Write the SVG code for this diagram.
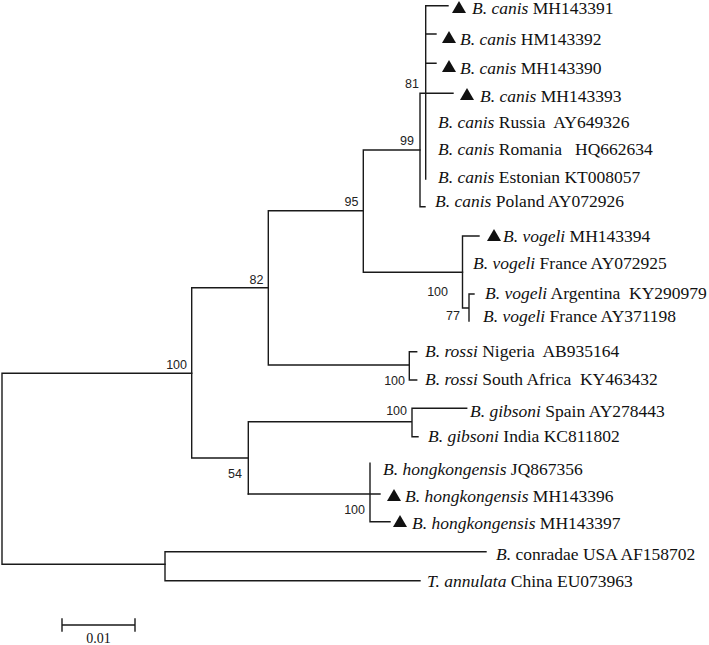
<svg xmlns="http://www.w3.org/2000/svg" width="709" height="645" viewBox="0 0 709 645">
<style>
.br{stroke:#1a1a1a;stroke-width:1.4;fill:none;stroke-linecap:square}
.lb{font-family:"Liberation Serif","Times New Roman",serif;font-size:17.5px;fill:#111;white-space:pre}
.i{font-style:italic}
.bs{font-family:"Liberation Sans",Arial,sans-serif;font-size:12.5px;fill:#222;text-anchor:end}
.tri{fill:#111}
</style>
<defs>
<polygon id="tri" points="0,0 7,-12 14,0"/>
</defs>
<rect width="709" height="645" fill="#fff"/>
<g id="connectors" class="br">
<path d="M2,373.3V564.3M2,373.3H191.7M2,564.3H165"/>
<path d="M165,551.7V580.7M165,551.7H486M165,580.7H420"/>
<path d="M191.7,287.7V458M191.7,287.7H268.3M191.7,458H248.3"/>
<path d="M268.3,210.7V365M268.3,210.7H363.3M268.3,365H409.3"/>
<path d="M363.3,150V272.3M363.3,150H420M363.3,272.3H462.5"/>
<path d="M420,93.3V206.7H425M420,93.3H453"/>
<path d="M425.7,5.7V179M425.7,5.7H448M425.7,34H436M425.7,63.3H436"/>
<path d="M462.5,236V308H469M469,294V321M469,294H474M462.5,236H479"/>
<path d="M409.3,351.7V380M409.3,351.7H416.7M409.3,380H416.7"/>
<path d="M248.3,421.7V494M248.3,421.7H412M412,408.3V436.7M412,408.3H466.7M412,436.7H418"/>
<path d="M370,463.3V521.7M248.3,494H380M370,521.7H390"/>
</g>
<g id="bootstrap">
<text class="bs" x="419" y="87.5">81</text>
<text class="bs" x="414" y="145">99</text>
<text class="bs" x="358.5" y="206">95</text>
<text class="bs" x="263.5" y="283.5">82</text>
<text class="bs" x="187" y="368.5">100</text>
<text class="bs" x="448" y="296">100</text>
<text class="bs" x="460" y="319.5">77</text>
<text class="bs" x="405" y="385">100</text>
<text class="bs" x="407" y="415">100</text>
<text class="bs" x="242" y="478">54</text>
<text class="bs" x="365" y="513.5">100</text>
</g>
<g id="n1"><use href="#tri" class="tri" x="452" y="13"/><text class="lb" x="472" y="14"><tspan class="i">B. canis</tspan> MH143391</text></g>
<g id="n2"><use href="#tri" class="tri" x="442" y="43"/><text class="lb" x="460" y="45"><tspan class="i">B. canis</tspan> HM143392</text></g>
<g id="n3"><use href="#tri" class="tri" x="442" y="72"/><text class="lb" x="460" y="73.5"><tspan class="i">B. canis</tspan> MH143390</text></g>
<g id="n4"><use href="#tri" class="tri" x="460" y="100"/><text class="lb" x="480" y="102"><tspan class="i">B. canis</tspan> MH143393</text></g>
<g id="n5"><text class="lb" x="438" y="127.5"><tspan class="i">B. canis</tspan> Russia  AY649326</text></g>
<g id="n6"><text class="lb" x="438" y="155"><tspan class="i">B. canis</tspan> Romania   HQ662634</text></g>
<g id="n7"><text class="lb" x="438" y="183"><tspan class="i">B. canis</tspan> Estonian KT008057</text></g>
<g id="n8"><text class="lb" x="435" y="207"><tspan class="i">B. canis</tspan> Poland AY072926</text></g>
<g id="n9"><use href="#tri" class="tri" x="487" y="241"/><text class="lb" x="503" y="242"><tspan class="i">B. vogeli</tspan> MH143394</text></g>
<g id="n10"><text class="lb" x="473" y="268.5"><tspan class="i">B. vogeli</tspan> France AY072925</text></g>
<g id="n11"><text class="lb" x="485" y="298.5"><tspan class="i">B. vogeli</tspan> Argentina  KY290979</text></g>
<g id="n12"><text class="lb" x="483" y="322"><tspan class="i">B. vogeli</tspan> France AY371198</text></g>
<g id="n13"><text class="lb" x="425" y="357"><tspan class="i">B. rossi</tspan> Nigeria  AB935164</text></g>
<g id="n14"><text class="lb" x="425" y="385"><tspan class="i">B. rossi</tspan> South Africa  KY463432</text></g>
<g id="n15"><text class="lb" x="470" y="417"><tspan class="i">B. gibsoni</tspan> Spain AY278443</text></g>
<g id="n16"><text class="lb" x="428" y="442"><tspan class="i">B. gibsoni</tspan> India KC811802</text></g>
<g id="n17"><text class="lb" x="383" y="475"><tspan class="i">B. hongkongensis</tspan> JQ867356</text></g>
<g id="n18"><use href="#tri" class="tri" x="387" y="501"/><text class="lb" x="405" y="502"><tspan class="i">B. hongkongensis</tspan> MH143396</text></g>
<g id="n19"><use href="#tri" class="tri" x="393" y="527"/><text class="lb" x="412" y="528.5"><tspan class="i">B. hongkongensis</tspan> MH143397</text></g>
<g id="n20"><text class="lb" x="496" y="560"><tspan class="i">B.</tspan> conradae USA AF158702</text></g>
<g id="n21"><text class="lb" x="427" y="587"><tspan class="i">T. annulata</tspan> China EU073963</text></g>
<g id="scale">
<path class="br" d="M62,625H135M62,619V631M135,619V631"/>
<text x="98.5" y="643" font-family="Liberation Serif, serif" font-size="14" text-anchor="middle" fill="#111">0.01</text>
</g>
</svg>
